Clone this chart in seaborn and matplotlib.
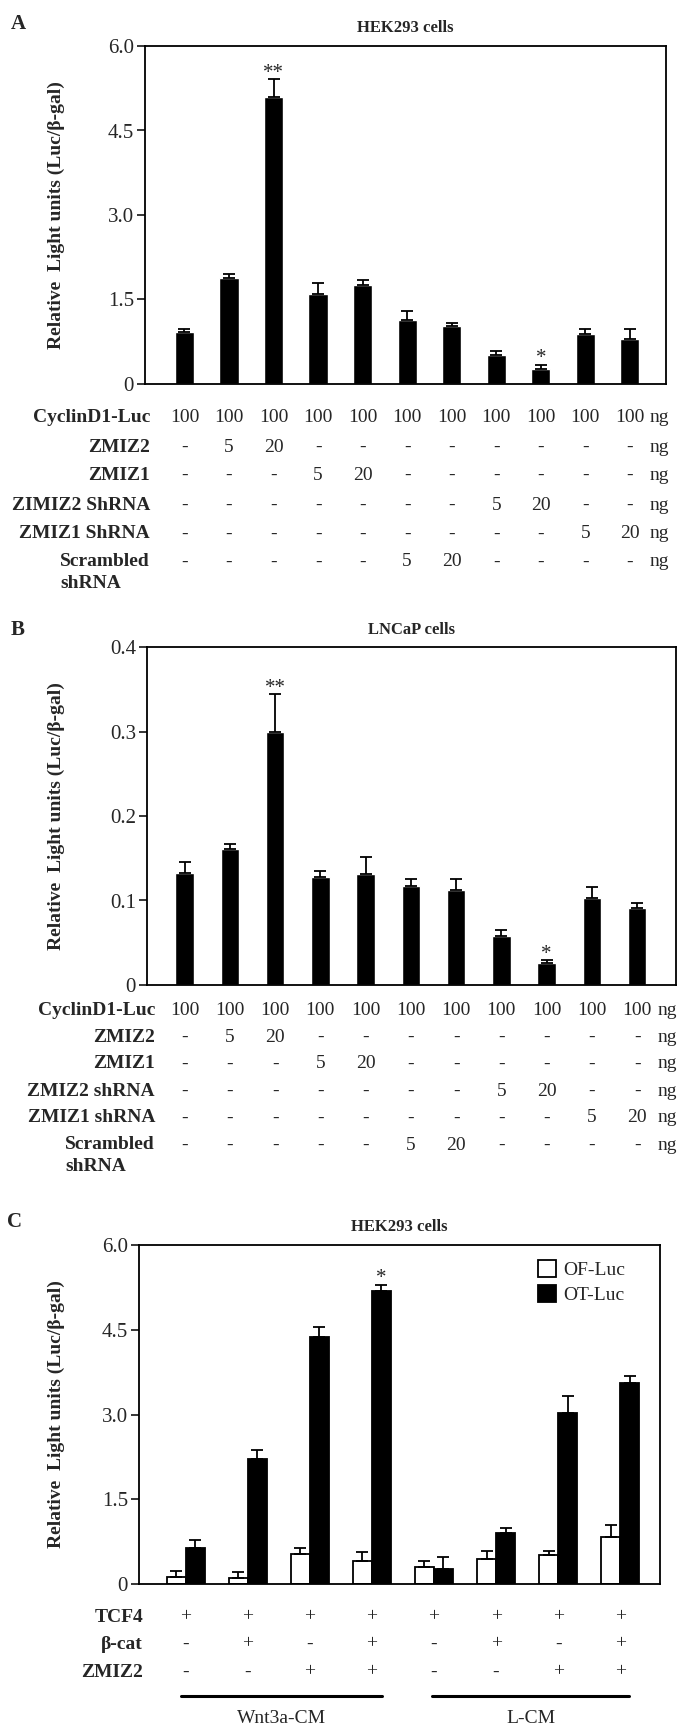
import numpy as np
import pandas as pd
import matplotlib
matplotlib.use("Agg")
import matplotlib.pyplot as plt
import matplotlib.transforms as mtransforms
from matplotlib.lines import Line2D
import seaborn as sns

# ---------------- data ----------------
conditions = ["c1", "c2", "c3", "c4", "c5", "c6", "c7", "c8", "c9", "c10", "c11"]

hek_values = [0.93, 1.88, 5.10, 1.59, 1.75, 1.14, 1.03, 0.52, 0.27, 0.89, 0.79]
hek_errors = [0.055, 0.065, 0.31, 0.20, 0.10, 0.16, 0.05, 0.06, 0.075, 0.095, 0.18]
hek_stars = ["", "", "**", "", "", "", "", "", "*", "", ""]

lncap_values = [0.133, 0.161, 0.299, 0.128, 0.131, 0.117, 0.113, 0.058, 0.026, 0.103, 0.091]
lncap_errors = [0.013, 0.006, 0.045, 0.0075, 0.021, 0.009, 0.013, 0.007, 0.0035, 0.0126, 0.0065]
lncap_stars = ["", "", "**", "", "", "", "", "", "*", "", ""]

labels_a = ["CyclinD1-Luc", "ZMIZ2", "ZMIZ1", "ZIMIZ2 ShRNA", "ZMIZ1 ShRNA", "Scrambled\nshRNA"]
labels_b = ["CyclinD1-Luc", "ZMIZ2", "ZMIZ1", "ZMIZ2 shRNA", "ZMIZ1 shRNA", "Scrambled\nshRNA"]
row_cyclin = ["100", "100", "100", "100", "100", "100", "100", "100", "100", "100", "100"]
row_zmiz2 = ["-", "5", "20", "-", "-", "-", "-", "-", "-", "-", "-"]
row_zmiz1 = ["-", "-", "-", "5", "20", "-", "-", "-", "-", "-", "-"]
row_zmiz2_sh = ["-", "-", "-", "-", "-", "-", "-", "5", "20", "-", "-"]
row_zmiz1_sh = ["-", "-", "-", "-", "-", "-", "-", "-", "-", "5", "20"]
row_scrambled = ["-", "-", "-", "-", "-", "5", "20", "-", "-", "-", "-"]
unit = "ng"

groups_c = ["g1", "g2", "g3", "g4", "g5", "g6", "g7", "g8"]
reporters = ["OF-Luc", "OT-Luc"]
of_values = [0.124, 0.11, 0.53, 0.41, 0.30, 0.435, 0.52, 0.835]
of_errors = [0.10, 0.11, 0.11, 0.15, 0.11, 0.145, 0.07, 0.215]
ot_values = [0.635, 2.22, 4.38, 5.18, 0.265, 0.906, 3.02, 3.55]
ot_errors = [0.145, 0.16, 0.17, 0.12, 0.215, 0.084, 0.30, 0.13]
ot_stars = ["", "", "", "*", "", "", "", ""]
labels_c = ["TCF4", "β-cat", "ZMIZ2"]
row_tcf4 = ["+", "+", "+", "+", "+", "+", "+", "+"]
row_bcat = ["-", "+", "-", "+", "-", "+", "-", "+"]
row_zmiz2_c = ["-", "-", "+", "+", "-", "-", "+", "+"]
media = ["Wnt3a-CM", "L-CM"]

ylabel = "Relative  Light units (Luc/β-gal)"

# ---------------- style ----------------
sns.set_style("white")
plt.rcParams["font.family"] = ["Liberation Serif", "DejaVu Serif"]
plt.rcParams["axes.linewidth"] = 1.3
plt.rcParams["axes.edgecolor"] = "black"

W, H = 677, 1726
fig = plt.figure(figsize=(W / 100, H / 100), dpi=100)
fig.patch.set_facecolor("white")


def fy(px):
    return 1 - px / H


def make_ax(left, right, top, bottom):
    return fig.add_axes([left / W, 1 - bottom / H, (right - left) / W, (bottom - top) / H])


def style_ax(ax, ticks, ticklabels, ylim, xlim):
    ax.set_ylim(*ylim)
    ax.set_xlim(*xlim)
    ax.set_yticks(ticks)
    ax.set_yticklabels(ticklabels, fontsize=15)
    ax.set_xticks([])
    ax.set_xlabel("")
    ax.tick_params(axis="y", direction="out", length=6, width=1.3, pad=2, left=True)
    for s in ax.spines.values():
        s.set_visible(True)
        s.set_color("black")
        s.set_linewidth(1.3)
    ax.set_ylabel(ylabel, fontsize=14, fontweight="bold")
    ax.yaxis.label.set_rotation_mode("default")
    ax.yaxis.label.set_va("center")
    ax.yaxis.label.set_ha("center")


def add_errors(ax, container, vals, errs, stars=None):
    xs = [p.get_x() + p.get_width() / 2 for p in container]
    ax.errorbar(xs, vals, yerr=[np.zeros(len(vals)), errs], fmt="none", ecolor="black",
                elinewidth=1.3, capsize=4.5, capthick=1.3, zorder=3)
    if stars is not None:
        for x, v, e, s in zip(xs, vals, errs, stars):
            if s:
                ax.annotate(s, (x, v + e), xytext=(0, 1), textcoords="offset points",
                            ha="center", va="baseline", fontsize=15)


def add_table(ax, labels, rows, centers_px, label_right_px, ng=True):
    trans = mtransforms.blended_transform_factory(ax.transData, fig.transFigure)
    for lab, row, cpx in zip(labels, rows, centers_px):
        base = fy(cpx + 6.5)
        if "\n" in lab:
            fig.text(label_right_px / W, fy(cpx - 7), lab, ha="right", va="top", fontsize=14,
                     fontweight="bold", multialignment="left", linespacing=1.4)
        else:
            fig.text(label_right_px / W, base, lab, ha="right", va="baseline", fontsize=14,
                     fontweight="bold")
        for i, s in enumerate(row):
            ax.text(i, base, s, transform=trans, ha="center", va="baseline", fontsize=14)
        if ng:
            ax.text(len(row) - 1 + 0.45, base, unit, transform=trans, ha="left",
                    va="baseline", fontsize=14)


# ---------------- Panel A ----------------
axA = make_ax(145, 666, 46, 384)
dfA = pd.DataFrame({"cond": conditions, "value": hek_values})
sns.barplot(data=dfA, x="cond", y="value", color="black", saturation=1, width=0.43,
            errorbar=None, ax=axA)
add_errors(axA, axA.containers[0], hek_values, hek_errors, hek_stars)
style_ax(axA, [0, 1.5, 3.0, 4.5, 6.0], ["0", "1.5", "3.0", "4.5", "6.0"], (0, 6.0), (-0.885, 10.81))
axA.yaxis.set_label_coords(-0.170, 0.5)
fig.text((145 + 666) / 2 / W, fy(28), "HEK293 cells", ha="center", va="center",
         fontsize=12, fontweight="bold")
fig.text(18 / W, fy(24), "A", ha="center", va="center", fontsize=15, fontweight="bold")
add_table(axA, labels_a,
          [row_cyclin, row_zmiz2, row_zmiz1, row_zmiz2_sh, row_zmiz1_sh, row_scrambled],
          [415, 445, 473, 503, 532, 560], 150)

# ---------------- Panel B ----------------
axB = make_ax(147, 676, 647, 985)
dfB = pd.DataFrame({"cond": conditions, "value": lncap_values})
sns.barplot(data=dfB, x="cond", y="value", color="black", saturation=1, width=0.41,
            errorbar=None, ax=axB)
add_errors(axB, axB.containers[0], lncap_values, lncap_errors, lncap_stars)
style_ax(axB, [0, 0.1, 0.2, 0.3, 0.4], ["0", "0.1", "0.2", "0.3", "0.4"], (0, 0.4), (-0.83, 10.86))
axB.yaxis.set_label_coords(-0.172, 0.5)
fig.text((147 + 676) / 2 / W, fy(630), "LNCaP cells", ha="center", va="center",
         fontsize=12, fontweight="bold")
fig.text(18 / W, fy(630), "B", ha="center", va="center", fontsize=15, fontweight="bold")
add_table(axB, labels_b,
          [row_cyclin, row_zmiz2, row_zmiz1, row_zmiz2_sh, row_zmiz1_sh, row_scrambled],
          [1008, 1035, 1062, 1089, 1116, 1143], 155)

# ---------------- Panel C ----------------
axC = make_ax(139, 660, 1245, 1584)
dfC = pd.DataFrame({
    "group": groups_c + groups_c,
    "reporter": [reporters[0]] * len(groups_c) + [reporters[1]] * len(groups_c),
    "value": of_values + ot_values,
})
sns.barplot(data=dfC, x="group", y="value", hue="reporter", hue_order=reporters,
            palette={"OF-Luc": "white", "OT-Luc": "black"}, saturation=1,
            edgecolor="black", linewidth=1.3, width=0.61, gap=0, errorbar=None,
            legend=False, ax=axC)
add_errors(axC, axC.containers[0], of_values, of_errors)
add_errors(axC, axC.containers[1], ot_values, ot_errors, ot_stars)
style_ax(axC, [0, 1.5, 3.0, 4.5, 6.0], ["0", "1.5", "3.0", "4.5", "6.0"], (0, 6.0), (-0.75, 7.64))
axC.yaxis.set_label_coords(-0.159, 0.5)
axC.legend(handles=[axC.containers[0].patches[0], axC.containers[1].patches[0]],
           labels=reporters, loc="upper left", bbox_to_anchor=(0.765, 0.955),
           frameon=False, fontsize=14, handlelength=0.95, handleheight=0.95,
           handletextpad=0.35, labelspacing=0.3, borderaxespad=0, borderpad=0)
fig.text((139 + 660) / 2 / W, fy(1227), "HEK293 cells", ha="center", va="center",
         fontsize=12, fontweight="bold")
fig.text(15 / W, fy(1222), "C", ha="center", va="center", fontsize=15, fontweight="bold")
add_table(axC, labels_c, [row_tcf4, row_bcat, row_zmiz2_c], [1615, 1642, 1670], 143, ng=False)

# condition-media brackets
transC = mtransforms.blended_transform_factory(axC.transData, fig.transFigure)
spans = [(-0.08, 3.16), (3.97, 7.14)]
for (x0, x1), name in zip(spans, media):
    axC.add_line(Line2D([x0, x1], [fy(1696), fy(1696)], transform=transC, color="black",
                        linewidth=2.2, clip_on=False))
    axC.text((x0 + x1) / 2, fy(1718), name, transform=transC, ha="center", va="center",
             fontsize=14)

fig.savefig("out.png", dpi=100, facecolor="white")
